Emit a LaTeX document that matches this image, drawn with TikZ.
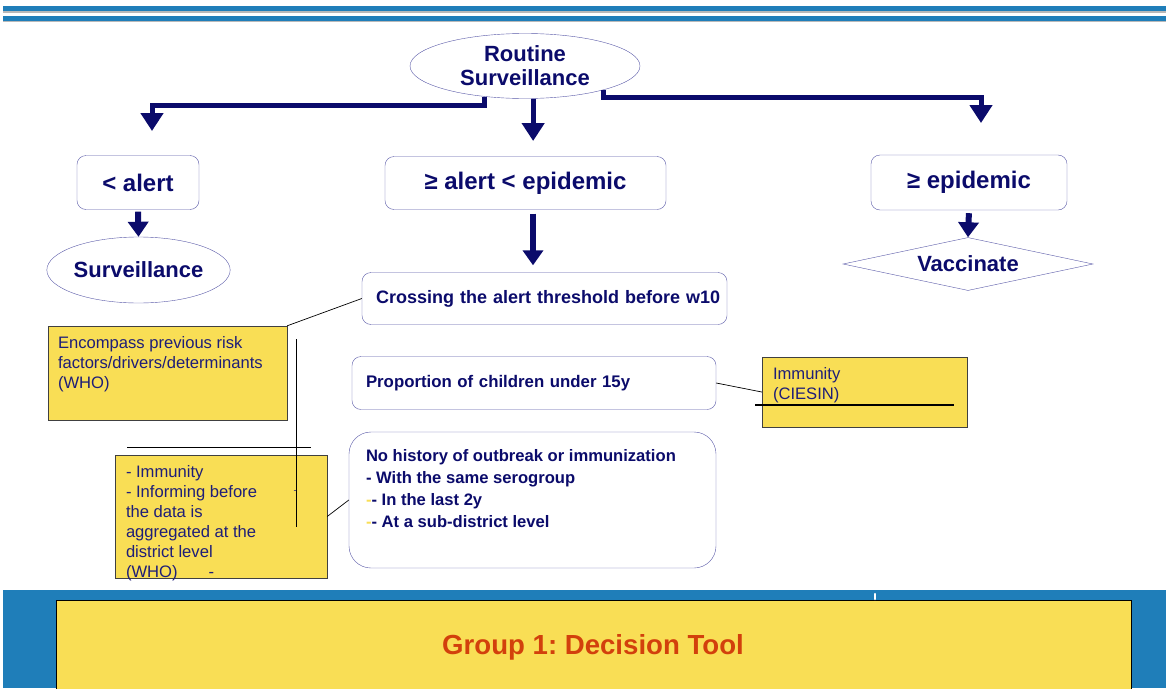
\documentclass[tikz,border=0pt]{standalone}
\usepackage{fontspec}
\setmainfont{Liberation Sans}
\usepackage{tikz}
\usetikzlibrary{
	shapes.geometric,
	arrows.meta
}

\definecolor{barblue}{HTML}{1F7EB9}
\definecolor{navy}{HTML}{0B0B6B}
\definecolor{boxline}{HTML}{5A5AA8}
\definecolor{noteyellow}{HTML}{F9DE55}
\definecolor{notetext}{HTML}{1E1E78}
\definecolor{titlered}{HTML}{D2400C}

\newcommand\setfs[2]{\fontsize{#1}{#2}\selectfont}
\frenchspacing

\tikzset{
	flowbox/.style={draw=boxline,rounded corners=9pt,fill=white,inner sep=0pt,text=navy,font=\bfseries},
	oval/.style={ellipse,draw=boxline,fill=white,inner sep=0pt,text=navy,font=\bfseries\setfs{22}{24},align=center},
	rhomb/.style={diamond,aspect=4.7,draw=boxline,fill=white,inner sep=0pt,text=navy,font=\bfseries\setfs{22}{24}},
	note/.style={draw=black!75,fill=noteyellow,inner sep=0pt},
	notetxt/.style={anchor=north west,inner sep=0pt,text=notetext,font=\setfs{16.6}{20},align=left},
	bigarrow/.style={navy,line width=5pt,-{Triangle[width=22pt,length=18pt]}},
	smallarrow/.style={navy,line width=6pt,-{Triangle[width=20pt,length=15pt]}},
	thinline/.style={black,line width=0.7pt}
}

\begin{document}
\begin{tikzpicture}[x=1pt,y=-1pt]
	\useasboundingbox (0,0) rectangle (1166,688);

	% header bars
	\fill[gray!55] (3,7) rectangle (1166,12.5);
	\fill[barblue] (3,6) rectangle (1166,11);
	\fill[gray!55] (3,17) rectangle (1166,22);
	\fill[barblue] (3,16) rectangle (1166,21);

	\draw
		node [oval,minimum width=230,minimum height=65]   (rs)     at (525,66)    {Routine\\Surveillance}
		node [flowbox,minimum width=122,minimum height=54,font=\bfseries\setfs{24}{28}] (lalert) at (138,182.5) {< alert}
		node [flowbox,minimum width=281,minimum height=53,font=\bfseries\setfs{24}{28}] (mid)    at (525.5,183) {≥ alert < epidemic}
		node [flowbox,minimum width=196,minimum height=55,font=\bfseries\setfs{24}{28}] (epi)    at (969,182.5)  {≥ epidemic}
		node [oval,minimum width=177,minimum height=66]   (surv)   at (138.5,270) {Surveillance}
		node [rhomb,minimum width=250,minimum height=53]  (vacc)   at (968,264)   {Vaccinate}
		node [flowbox,minimum width=365,minimum height=52,text width=337,align=left,font=\bfseries\setfs{18}{20}] (cross) at (544.5,298.5) {\mbox{Crossing the alert threshold before w10}}
		node [flowbox,minimum width=364,minimum height=53,text width=336,align=left,font=\bfseries\setfs{16.8}{20}] (prop)  at (534,383) {Proportion of children under 15y}
		node [flowbox,rounded corners=22pt,minimum width=367,minimum height=136] (hist) at (532.5,500) {}
	;
	\node [anchor=north west,inner sep=0pt,text=navy,font=\bfseries\setfs{16.6}{22},align=left]
		(histtxt) at ([xshift=17pt,yshift=-17pt]hist.north west)
		{No history of outbreak or immunization\\
		- With the same serogroup\\
		{\color{noteyellow}-}- In the last 2y\\
		{\color{noteyellow}-}- At a sub-district level};

	% yellow notes
	\node [note,minimum width=239,minimum height=94] (note1) at (167.5,373) {};
	\node [notetxt] (note1txt) at ([xshift=10pt,yshift=-10pt]note1.north west)
		{Encompass previous risk\\factors/drivers/determinants\\(WHO)};
	\node [note,minimum width=212,minimum height=123] (note2) at (221,516.5) {};
	\node [notetxt] (note2txt) at ([xshift=11pt,yshift=-10pt]note2.north west)
		{- Immunity\\- Informing before\\the data is\\aggregated at the\\district level\\(WHO)\hspace{31pt}-};
	\node [inner sep=0pt,text=notetext,font=\setfs{9}{10}] (dash) at (295,492) {-};
	\node [note,minimum width=205,minimum height=70] (note3) at (864.5,392) {};
	\node [notetxt] (note3txt) at ([xshift=11pt,yshift=-10pt]note3.north west)
		{Immunity\\(CIESIN)};

	% arrows
	\coordinate (ltip) at (152,131);
	\coordinate (mtip) at (533,141);
	\coordinate (rtip) at (981,123);
	\draw[bigarrow] (rs.217) -- ++(0,9) -| (ltip);
	\draw[bigarrow] (rs.284) -- (rs.284 |- mtip);
	\draw[bigarrow] (rs.343) -- ++(0,8) -| (rtip);
	\draw[smallarrow,shorten <=2pt] (lalert.south) -- (surv.north);
	\draw[smallarrow,shorten <=4pt,shorten >=7pt] (mid.south -| mtip) -- (cross.north -| mtip);
	\draw[smallarrow,shorten <=3pt] (epi.south) -- (vacc.north);

	% thin connectors
	\draw[thinline] (cross.west) -- (note1.north east);
	\draw[thinline] (prop.east) -- (note3.west);
	\draw[thinline] (note2.east) -- (hist.west);
	\draw[thinline] (296,339) -- (296,527);
	\draw[thinline] (127,447) -- (311,447);
	\draw[black,line width=2pt] (755,405) -- (954,405);

	% footer
	\fill[barblue] (3,590) rectangle (1166,688);
	\filldraw[fill=noteyellow,draw=black] (56,600) rectangle (1131,700);
	\draw[white,line width=2.5pt,line cap=round] (875,594) -- (875,599);
	\node [text=titlered,font=\bfseries\setfs{27.6}{30}] (title) at (593,647) {Group 1: Decision Tool};
\end{tikzpicture}
\end{document}
